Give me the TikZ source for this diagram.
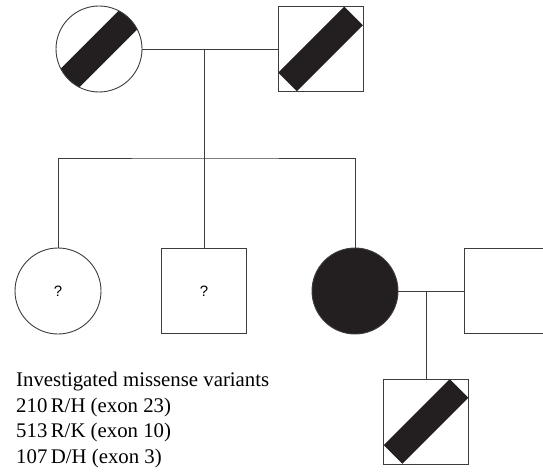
\documentclass[tikz,border=0pt]{standalone}
\usepackage{fontspec}
\setmainfont{Liberation Serif}
\setsansfont{Liberation Sans}
\usetikzlibrary{
	calc
}
\definecolor{pedfill}{RGB}{35,31,32}
\definecolor{pedline}{RGB}{60,60,60}
\tikzset{
	female/.style={
		circle, draw=pedline, line width=0.9pt,
		minimum size=86pt, inner sep=0pt
	},
	male/.style={
		rectangle, draw=pedline, line width=0.9pt,
		minimum size=85pt, inner sep=0pt
	},
	affected/.style={
		fill=pedfill
	},
	carrier/.style={
		path picture={
			\fill [pedfill] (path picture bounding box.center)
			++({#1+9.3pt},{#1-9.3pt}) -- ++(-18.6pt,18.6pt)
			-- ++({-2*#1},{-2*#1}) -- ++(18.6pt,-18.6pt) -- cycle;
		}
	},
	unknown/.style={
		font=\sffamily\fontsize{15}{15}\selectfont
	},
	pedline/.style={
		draw=pedline, line width=0.9pt
	}
}

\begin{document}
\begin{tikzpicture}[x=1pt, y=-1pt]
		\useasboundingbox (0,0) rectangle (543,473);
		% parents
		\node [female, carrier=50pt] (gm) at (99,49) {};
		\node [male, carrier=33pt] (gf) at (320.5,49) {};
		% children
		\node [female, unknown] (dau1) at (58,291) {?};
		\node [male, unknown] (son) at (204,291) {?};
		\node [female, affected] (dau2) at (355,291) {};
		\node [male] (husb) at (506.5,291) {};
		% grandchild
		\node [male, carrier=33pt] (grand) at (426,421.5) {};
		\coordinate (sib) at (204,158);
		\coordinate (m2) at (426,291);
		\draw [pedline] (gm.east) -- (gf.west);
		\draw [pedline] (sib) -- (sib |- gm.east);
		\draw [pedline] (dau1.north) |- (sib) -| (dau2.north);
		\draw [pedline] (sib) -- (son.north);
		\draw [pedline] (dau2.east) -- (husb.west);
		\draw [pedline] (m2) -- (grand.north);
		% variants
		\node [anchor=north west, inner sep=0pt, align=left,
			font=\fontsize{20.8}{25.6}\selectfont] (legend) at (16,372)
			{Investigated missense variants\\
			210\,R/H (exon 23)\\
			513\,R/K (exon 10)\\
			107\,D/H (exon 3)};
	\end{tikzpicture}
\end{document}
